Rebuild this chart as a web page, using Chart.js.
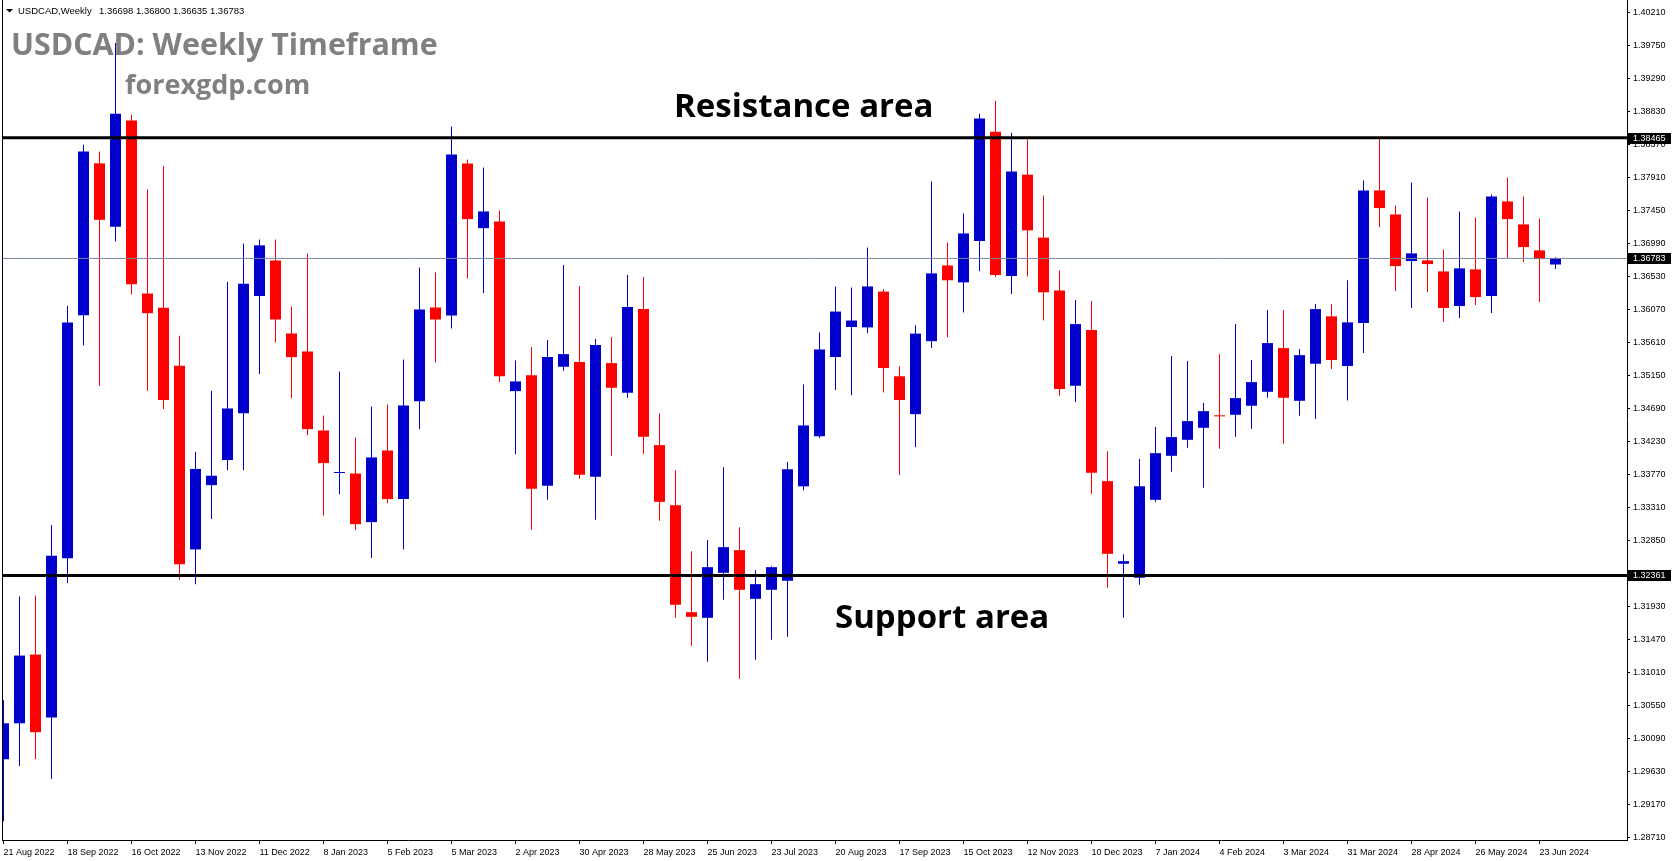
<!DOCTYPE html>
<html>
<head>
<meta charset="utf-8">
<script src="https://cdn.jsdelivr.net/npm/chart.js@4.4.1/dist/chart.umd.min.js"></script>
<style>
html,body{margin:0;padding:0;background:#fff;overflow:hidden}
#wrap{width:1673px;height:861px;position:relative}
canvas{display:block}
</style>
</head>
<body>
<div id="wrap"><canvas id="c" width="1673" height="861"></canvas></div>
<script>
// ---- data (weekly candles, first = 21 Aug 2022, last = 30 Jun 2024) ----
const opens = [1.29798,1.30299,1.31258,1.30381,1.32601,1.35992,1.38109,1.37225,1.38705,1.36293,
1.36095,1.35286,1.32724,1.33621,1.33971,1.34622,1.36259,1.36754,1.35736,1.35485,
1.34383,1.33790,1.33783,1.33105,1.34104,1.33426,1.34792,1.36099,1.35987,1.38107,
1.37205,1.37298,1.34932,1.35155,1.33612,1.35272,1.35337,1.33737,1.35323,1.34909,
1.36076,1.34179,1.33342,1.31849,1.31770,1.32398,1.32714,1.32035,1.32161,1.32286,
1.33604,1.34304,1.35408,1.35826,1.35821,1.36320,1.35139,1.34611,1.35629,1.36685,
1.36449,1.37025,1.38551,1.36536,1.37951,1.37073,1.36334,1.35007,1.35783,1.33677,
1.32524,1.32328,1.33416,1.34030,1.34253,1.34421,1.34595,1.34602,1.34728,1.34923,
1.35532,1.34797,1.35314,1.35975,1.35282,1.35882,1.37731,1.37396,1.36746,1.36755,
1.36602,1.36119,1.36630,1.36258,1.37578,1.37257,1.36895,1.36698];
const highs = [1.30621,1.32066,1.32080,1.33066,1.36122,1.38369,1.38273,1.39787,1.38787,1.37746,
1.38074,1.35704,1.34087,1.34937,1.36458,1.36992,1.37047,1.37047,1.36113,1.36852,
1.34592,1.35206,1.34286,1.34718,1.34746,1.35373,1.36657,1.36587,1.38623,1.38163,
1.38051,1.37452,1.35359,1.35546,1.35644,1.36690,1.36397,1.35658,1.35686,1.36550,
1.36523,1.34625,1.33830,1.32700,1.32854,1.33872,1.33035,1.32435,1.32491,1.33942,
1.35024,1.35749,1.36392,1.36377,1.36934,1.36358,1.35278,1.35850,1.37856,1.37006,
1.37409,1.38801,1.38983,1.38537,1.38446,1.37659,1.36613,1.36202,1.36188,1.34095,
1.32658,1.33984,1.34430,1.35421,1.35351,1.34765,1.35448,1.35867,1.35365,1.36062,
1.36062,1.35518,1.36146,1.36142,1.36477,1.37870,1.38451,1.37522,1.37842,1.37633,
1.36909,1.37438,1.37355,1.37675,1.37912,1.37647,1.37341,1.36800];
const lows = [1.28933,1.29703,1.29798,1.29524,1.32251,1.35567,1.35005,1.37019,1.36280,1.34937,
1.34683,1.32300,1.32237,1.33149,1.33827,1.33827,1.35170,1.35611,1.34834,1.34318,
1.33198,1.33495,1.32993,1.32603,1.33370,1.32724,1.34402,1.35332,1.35806,1.36503,
1.36299,1.35057,1.34053,1.32998,1.33416,1.35216,1.33709,1.33137,1.34030,1.34839,
1.34058,1.33123,1.31770,1.31380,1.31156,1.32021,1.30919,1.31184,1.31463,1.31505,
1.33551,1.34280,1.34947,1.34875,1.35739,1.34914,1.33762,1.34151,1.35533,1.35682,
1.36027,1.36603,1.36521,1.36286,1.36531,1.35917,1.34866,1.34779,1.33500,1.32189,
1.31770,1.32231,1.33388,1.33807,1.34142,1.33584,1.34128,1.34295,1.34407,1.34839,
1.34198,1.34588,1.34542,1.35241,1.34800,1.35464,1.37220,1.36328,1.36091,1.36314,
1.35896,1.35952,1.36133,1.36021,1.36788,1.36732,1.36175,1.36635];
const closes = [1.30299,1.31244,1.30175,1.32635,1.35889,1.38273,1.37321,1.38801,1.36423,1.36019,
1.34807,1.32518,1.33847,1.33752,1.34690,1.36430,1.36965,1.35931,1.35406,1.34402,
1.33928,1.33800,1.33077,1.34007,1.33426,1.34732,1.36071,1.35931,1.38233,1.37331,
1.37438,1.35141,1.35067,1.33570,1.35407,1.35448,1.33765,1.35574,1.34979,1.36104,
1.34295,1.33388,1.31952,1.31784,1.32477,1.32756,1.32161,1.32240,1.32477,1.33844,
1.34453,1.35514,1.36042,1.35917,1.36392,1.35254,1.34808,1.35734,1.36574,1.36478,
1.37131,1.38734,1.36550,1.37995,1.37174,1.36310,1.34962,1.35867,1.33793,1.32663,
1.32561,1.33607,1.34067,1.34291,1.34514,1.34653,1.34580,1.34835,1.35058,1.35602,
1.34839,1.35434,1.36076,1.35366,1.35891,1.37731,1.37485,1.36676,1.36853,1.36704,
1.36091,1.36644,1.36244,1.37647,1.37331,1.36941,1.36774,1.36783];

// x tick labels, one every 4 weeks
const xTickLabels = ["21 Aug 2022","18 Sep 2022","16 Oct 2022","13 Nov 2022","11 Dec 2022","8 Jan 2023",
"5 Feb 2023","5 Mar 2023","2 Apr 2023","30 Apr 2023","28 May 2023","25 Jun 2023","23 Jul 2023",
"20 Aug 2023","17 Sep 2023","15 Oct 2023","12 Nov 2023","10 Dec 2023","7 Jan 2024","4 Feb 2024",
"3 Mar 2024","31 Mar 2024","28 Apr 2024","26 May 2024","23 Jun 2024"];
const xTickStep = 4;

// y tick labels (ascending)
const yTickLabels = ["1.28710","1.29170","1.29630","1.30090","1.30550","1.31010","1.31470","1.31930",
"1.32390","1.32850","1.33310","1.33770","1.34230","1.34690","1.35150","1.35610","1.36070","1.36530",
"1.36990","1.37450","1.37910","1.38370","1.38830","1.39290","1.39750","1.40210"];

// horizontal levels
const resistanceLevel = 1.38465;
const supportLevel = 1.32361;
const lastPrice = 1.36783;
const levelLabels = ["1.38465","1.36783","1.32361"];

// ---- view window ----
const X_MIN = -0.09375;
const X_MAX = X_MIN + 1625 / 16;
const Y_MAX = 1.403871;
const Y_MIN = 1.286716;

const BULL = 'rgb(0,0,205)';
const BEAR = 'rgb(255,0,0)';
const idx = opens.map((_, i) => i);
const candleColors = idx.map(i => closes[i] >= opens[i] ? BULL : BEAR);

const overlay = {
  id: 'overlay',
  afterDraw(chart) {
    const ctx = chart.ctx;
    const y = chart.scales.y;
    ctx.save();
    // left frame line
    ctx.fillStyle = '#000';
    ctx.fillRect(2, 0, 1, 841);
    // header
    ctx.beginPath();
    ctx.moveTo(6, 9); ctx.lineTo(13, 9); ctx.lineTo(9.5, 12.5); ctx.closePath();
    ctx.fill();
    ctx.font = '9.5px "Liberation Sans"';
    ctx.textBaseline = 'middle';
    ctx.textAlign = 'left';
    ctx.fillText('USDCAD,Weekly', 18, 11);
    ctx.fillText('1.36698 1.36800 1.36635 1.36783', 99, 11);
    // titles
    ctx.textBaseline = 'alphabetic';
    ctx.fillStyle = '#808080';
    ctx.font = 'bold 30.4px "Open Sans"';
    ctx.fillText('USDCAD: Weekly Timeframe', 11, 55);
    ctx.font = 'bold 27px "Open Sans"';
    ctx.fillText('forexgdp.com', 125, 94);
    ctx.fillStyle = '#000';
    ctx.font = 'bold 33px "Open Sans"';
    ctx.fillText('Resistance area', 674, 117);
    ctx.fillText('Support area', 835, 628);
    // price boxes on axis
    const lv = [resistanceLevel, lastPrice, supportLevel];
    ctx.font = '9px "Liberation Sans"';
    ctx.textBaseline = 'middle';
    lv.forEach((v, k) => {
      const py = y.getPixelForValue(v);
      ctx.fillStyle = '#000';
      ctx.fillRect(1628, Math.round(py) - 5, 43, 11);
      ctx.fillStyle = '#fff';
      ctx.fillText(levelLabels[k], 1633, Math.round(py) + 0.5);
    });
    ctx.restore();
  }
};

const lineDs = (v, color, w) => ({
  type: 'line',
  data: [{x: X_MIN, y: v}, {x: X_MAX, y: v}],
  borderColor: color,
  borderWidth: w,
  pointRadius: 0,
  fill: false,
  order: 1
});

new Chart(document.getElementById('c'), {
  data: {
    datasets: [
      {
        type: 'bar',
        data: idx.map(i => ({x: i, y: [lows[i], highs[i]]})),
        backgroundColor: candleColors,
        borderWidth: 0,
        grouped: false,
        maxBarThickness: 1,
        order: 3
      },
      {
        type: 'bar',
        data: idx.map(i => ({x: i, y: [opens[i], closes[i]]})),
        backgroundColor: candleColors,
        borderWidth: 0,
        grouped: false,
        maxBarThickness: 11,
        minBarLength: 1,
        order: 2
      },
      lineDs(resistanceLevel, '#000', 3),
      lineDs(supportLevel, '#000', 3),
      lineDs(lastPrice, '#778899', 1)
    ]
  },
  options: {
    responsive: false,
    devicePixelRatio: 1,
    animation: false,
    events: [],
    layout: {padding: {left: 2, right: 0, top: 0, bottom: 0}},
    plugins: {legend: {display: false}, tooltip: {enabled: false}},
    scales: {
      x: {
        type: 'linear',
        position: 'bottom',
        min: X_MIN,
        max: X_MAX,
        offset: false,
        bounds: 'data',
        grid: {display: true, offset: false, drawOnChartArea: false, drawTicks: true, tickLength: 4, color: '#000'},
        border: {display: true, color: '#000', width: 1},
        ticks: {
          autoSkip: false, maxRotation: 0, minRotation: 0, align: 'start', padding: 3,
          color: '#000', font: {family: 'Liberation Sans', size: 9},
          callback: (v, i) => xTickLabels[i]
        },
        afterBuildTicks: s => { s.ticks = xTickLabels.map((_, k) => ({value: k * xTickStep})); },
        afterFit: s => { s.height = 21; s.paddingLeft = 0; s.paddingRight = 0; }
      },
      y: {
        type: 'linear',
        position: 'right',
        min: Y_MIN,
        max: Y_MAX,
        bounds: 'data',
        grid: {display: true, drawOnChartArea: false, drawTicks: true, tickLength: 3, color: '#000'},
        border: {display: true, color: '#000', width: 1},
        ticks: {
          autoSkip: false, padding: 3, color: '#000', font: {family: 'Liberation Sans', size: 9},
          callback: (v, i) => yTickLabels[i]
        },
        afterBuildTicks: s => { s.ticks = yTickLabels.map(t => ({value: parseFloat(t)})); },
        afterFit: s => { s.width = 46; s.paddingTop = 0; s.paddingBottom = 0; }
      }
    }
  },
  plugins: [overlay]
});
</script>
</body>
</html>
